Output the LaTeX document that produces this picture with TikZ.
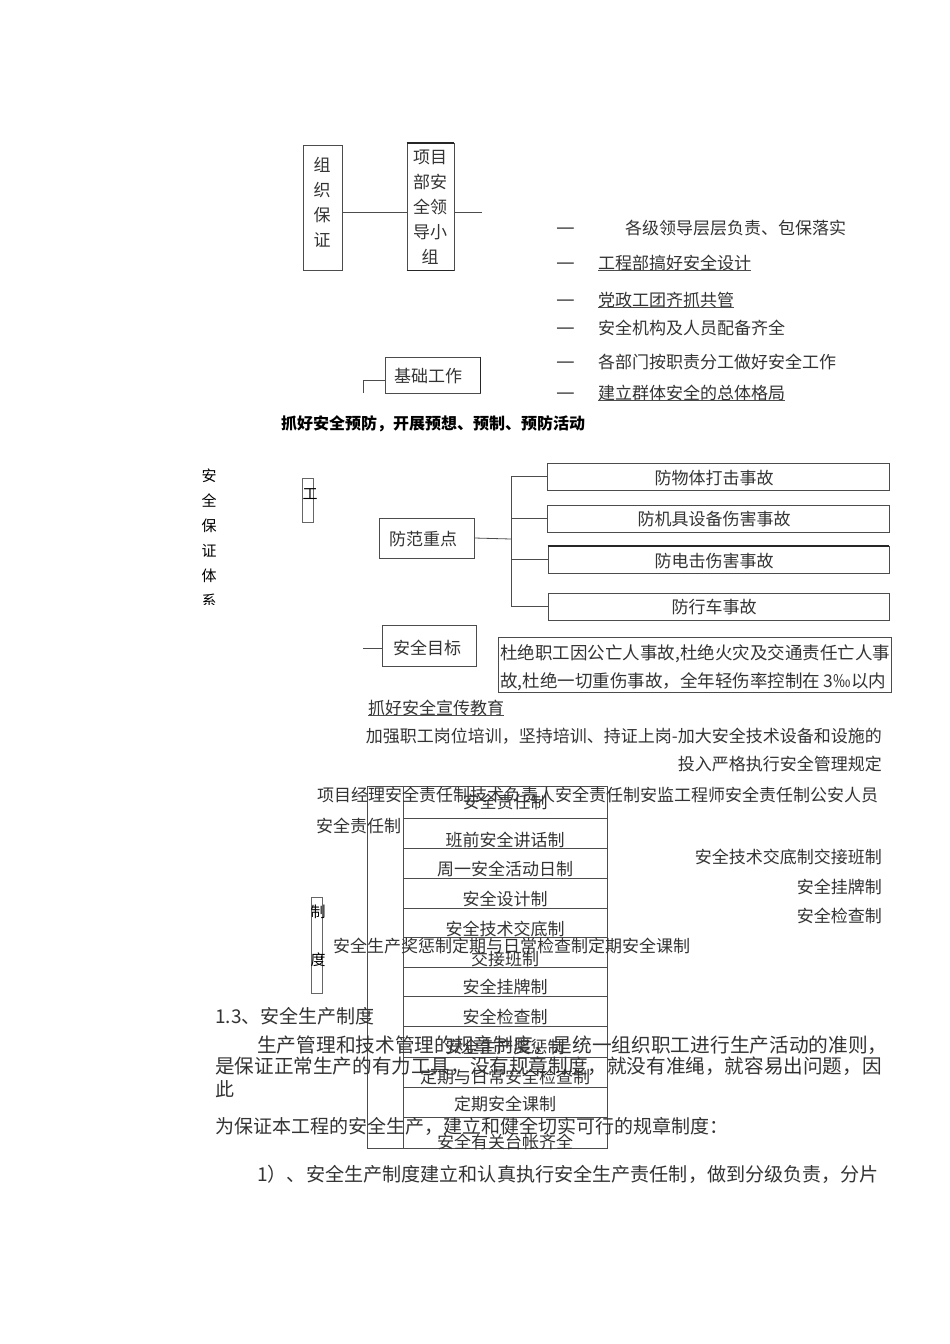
\documentclass[tikz,border=0pt]{standalone}
\usepackage{fontspec}
\setmainfont{Noto Sans CJK SC}
\usetikzlibrary{calc}
\tikzset{
  t/.style={inner sep=0pt, yshift=-3pt, text height=0.88em, text depth=0.12em, text=black!80, font=\fontsize{17}{17}\selectfont},
  tb/.style={t, text=black, font=\fontsize{15}{15}\selectfont},
  body/.style={t, font=\fontsize{19}{19}\selectfont},
  bx/.style={draw=black!70, line width=0.8pt, inner sep=0pt},
  ln/.style={draw=black!70, line width=0.8pt},
  thk/.style={draw=black!85, line width=1.8pt},
  ul/.style={draw=black!70, line width=0.7pt},
}
\begin{document}
\begin{tikzpicture}[x=1pt,y=-1pt]
\useasboundingbox (0,0) rectangle (950,1344);
% ---- top: organisation
\node[bx, minimum width=39pt, minimum height=125pt] (zz) at (322.5,207.5) {};
\foreach \c [count=\i from 0] in {组,织,保,证} \node[t] (zzt\i) at (322,{165+25*\i}) {\c};
\node[bx, minimum width=47pt, minimum height=127pt] (xm) at (430.5,206.5) {};
\draw[thk] (xm.north west) -- (xm.north east);
\draw[thk] (xm.south west) -- (xm.south east);
\node[t] (xm1) at (430,157) {项目};
\node[t] (xm2) at (430,182) {部安};
\node[t] (xm3) at (430,207) {全领};
\node[t] (xm4) at (430,232) {导小};
\node[t] (xm5) at (430,257) {组};
\draw[ln] ($(zz.east)+(0,4.5)$) -- ($(xm.west)+(0,5.5)$);
\coordinate (xmF) at (482,212);
\draw[ln] ($(xm.east)+(0,5.5)$) -- (xmF);
% list
\foreach \yy [count=\i] in {228,263,300,328,362,393} \node[t, anchor=west, font=\fontsize{21}{21}\selectfont] (dash\i) at (556,\yy) {—};
\node[t, anchor=west] (i1) at (625,228) {各级领导层层负责、包保落实};
\node[t, anchor=west] (i2) at (598,263) {工程部搞好安全设计};
\node[t, anchor=west] (i3) at (598,300) {党政工团齐抓共管};
\node[t, anchor=west] (i4) at (598,328) {安全机构及人员配备齐全};
\node[t, anchor=west] (i5) at (598,362) {各部门按职责分工做好安全工作};
\node[t, anchor=west] (i6) at (598,393) {建立群体安全的总体格局};
\draw[ul] ([yshift=0.5pt]i2.south west) -- ([yshift=0.5pt]i2.south east);
\draw[ul] ([yshift=0.5pt]i3.south west) -- ([yshift=0.5pt]i3.south east);
\draw[ul] ([yshift=0.5pt]i6.south west) -- ([yshift=0.5pt]i6.south east);
% basic work
\node[bx, minimum width=95pt, minimum height=36pt] (jc) at (432.5,375) {};
\draw[thk] (jc.north east) -- (jc.south east);
\node[t] (jct) at (428,376) {基础工作};
\coordinate (jcF) at (363,393);
\draw[ln] (jcF) |- ($(jc.west)+(0,5)$);
\node[tb, anchor=west, font=\fontsize{16}{16}\selectfont\bfseries] (yf) at (281,423) {抓好安全预防，开展预想、预制、预防活动};
% vertical title
\begin{scope}
\clip (180,440) rectangle (240,604);
\foreach \c [count=\i from 0] in {安,全,保,证,体,系} \node[tb] (aq\i) at (209,{475+25*\i}) {\c};
\end{scope}
\node[draw=black!60, line width=0.6pt, inner sep=0pt, minimum width=11pt, minimum height=44pt] (gb0) at (307.5,500) {};
\node[tb] (gong) at (310,493) {工};
% prevention focus
\node[bx, minimum width=95pt, minimum height=40pt] (ff) at (426.5,538) {};
\node[t] (fft) at (423,539) {防范重点};
\node[bx, minimum width=342pt, minimum height=27pt] (b1) at (718,476.5) {};
\node[bx, minimum width=342pt, minimum height=27pt] (b2) at (718,518.5) {};
\node[bx, minimum width=341pt, minimum height=27pt] (b3) at (718.5,559.5) {};
\node[bx, minimum width=341pt, minimum height=27pt] (b4) at (718.5,606.5) {};
\draw[thk] (b3.north west) -- (b3.north east);
\node[t] (b1t) at (714,478) {防物体打击事故};
\node[t] (b2t) at (714,519) {防机具设备伤害事故};
\node[t] (b3t) at (714,561) {防电击伤害事故};
\node[t] (b4t) at (714,607) {防行车事故};
\coordinate (tr) at (511,539);
\draw[ln] (ff.east) -- (tr);
\draw[ln] (b1.west) -| (tr);
\draw[ln] (b2.west) -| (tr);
\draw[ln] (b3.west) -| (tr);
\draw[ln] (b4.west) -| (tr);
% safety goal
\node[bx, minimum width=94pt, minimum height=41pt] (mb) at (429,645.5) {};
\node[t] (mbt) at (427,648) {安全目标};
\coordinate (mbF) at (363,648);
\draw[ln] (mbF) -- ($(mb.west)+(0,2.5)$);
\node[bx, minimum width=393pt, minimum height=55pt] (gb) at (694.5,664.5) {};
\draw[ln] ($(mb.east)+(0,4.5)$) -- ($(mb.east)+(0,4.5)$ -| gb.west);
\node[t, anchor=west, font=\fontsize{17.5}{17.5}\selectfont] (g1) at (500,653) {杜绝职工因公亡人事故,杜绝火灾及交通责任亡人事};
\node[t, anchor=west, font=\fontsize{17.5}{17.5}\selectfont] (g2) at (500,681) {故,杜绝一切重伤事故，全年轻伤率控制在 3‰以内};
% education
\node[t, anchor=west] (ed) at (368,708) {抓好安全宣传教育};
\draw[ul] ([yshift=0.5pt]ed.south west) -- ([yshift=0.5pt]ed.south east);
\node[t, anchor=east] (e1) at (882,736) {加强职工岗位培训，坚持培训、持证上岗-加大安全技术设备和设施的};
\node[t, anchor=east] (e2) at (882,764) {投入严格执行安全管理规定};
% table
\node[bx, minimum width=240pt, minimum height=362pt] (tbl) at (487,967) {};
\foreach \tp/\bt/\ty/\txt [count=\i] in {786/818/802/安全责任制, 818/848/840/班前安全讲话制, 848/878/869/周一安全活动日制, 878/908/899/安全设计制, 908/937/929/安全技术交底制, 937/967/959/交接班制, 967/996/987/安全挂牌制, 996/1026/1017/安全检查制, 1026/1057/1047/安全生产奖惩制, 1057/1087/1077/定期与日常安全检查制, 1087/1117/1104/定期安全课制, 1117/1148/1142/安全有关台帐齐全}
{
  \node[bx, minimum width=204pt, minimum height={\bt-\tp}] (r\i) at (505,{(\tp+\bt)/2}) {};
  \node[t] (rt\i) at (505,\ty) {\txt};
}
\node[t, anchor=west] (s1) at (317,795) {项目经理安全责任制技术负责人安全责任制安监工程师安全责任制公安人员};
\node[t, anchor=west] (s2) at (316,826) {安全责任制};
\node[t, anchor=east] (s3) at (882,857) {安全技术交底制交接班制};
\node[t, anchor=east] (s4) at (882,887) {安全挂牌制};
\node[t, anchor=east] (s5) at (882,916) {安全检查制};
\node[t, anchor=west] (s6) at (333,946) {安全生产奖惩制定期与日常检查制定期安全课制};
\node[draw=black!60, line width=0.6pt, inner sep=0pt, minimum width=11pt, minimum height=96pt] (zd) at (316.5,945) {};
\node[tb] (zd1) at (318,911) {制};
\node[tb] (zd2) at (318,959) {度};
% body text
\node[body, anchor=west] (p0) at (215,1017) {1.3、安全生产制度};
\node[body, anchor=west, font=\fontsize{19.7}{19.7}\selectfont] (p1) at (257,1046) {生产管理和技术管理的规章制度，是统一组织职工进行生产活动的准则，};
\node[body, anchor=west, font=\fontsize{19.6}{19.6}\selectfont] (p2) at (215,1067) {是保证正常生产的有力工具，没有规章制度，就没有准绳，就容易出问题，因};
\node[body, anchor=west] (p3) at (215,1090) {此};
\node[body, anchor=west] (p4) at (215,1127) {为保证本工程的安全生产，建立和健全切实可行的规章制度：};
\node[body, anchor=west, font=\fontsize{19.1}{19.1}\selectfont] (p5) at (257,1175) {1）、安全生产制度建立和认真执行安全生产责任制，做到分级负责，分片};
\end{tikzpicture}
\end{document}
